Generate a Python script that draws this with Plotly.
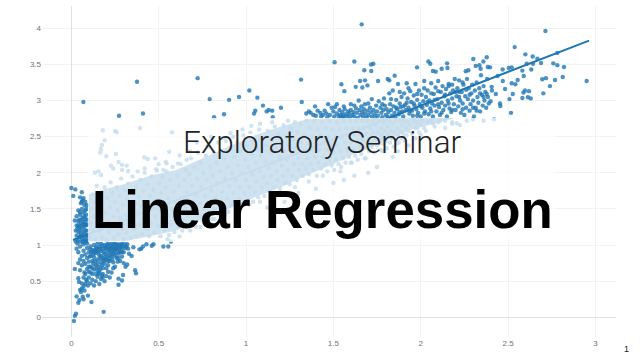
import plotly.graph_objects as go

# --- Data: points (x, y) ---
outliers = [(.069,2.98),(.376,3.26),(.723,3.31),(.273,2.79),(.41,2.82),(.792,3.02),(.817,2.77),(.874,2.81),(.903,3.01),(.96,3.05),
(1.019,3.14),(1.065,3.04),(1.046,2.82),(1.053,2.86),(1.097,2.93),(1.118,2.85),(1.13,2.87),(1.15,2.86),(1.153,2.77),(1.2,2.9),
(1.315,3.29),(1.319,2.98),(1.395,2.92),(1.662,4.055),(2.714,3.963),(1.507,3.53),(1.62,3.54),(1.716,3.5),(1.729,3.51),(1.677,3.42),
(1.717,3.41),(1.546,3.225),(1.563,3.13),(1.628,3.19),(1.653,3.27),(1.681,3.28),(1.666,3.18),(1.695,3.21),(1.756,3.27),(1.811,3.3),
(1.82,3.28),(1.851,3.345),(1.979,3.46),(2.044,3.54),(2.055,3.51),(2.151,3.515),(2.153,3.45),(2.12,3.44),(2.07,3.41),(2.086,3.4),
(2.301,3.575),(2.378,3.6),(2.359,3.54),(2.315,3.48),(2.336,3.49),(2.273,3.42),(2.258,3.405),(2.343,3.44),(2.384,3.465),(2.397,3.46),
(2.538,3.74),(2.599,3.64),(2.641,3.61),(2.668,3.58),(2.782,3.66),(2.759,3.515),(2.782,3.49),(2.82,3.465),(2.607,3.51),(2.643,3.51),
(2.689,3.52),(2.582,3.415),(2.633,3.43),(2.469,3.43),(2.504,3.45),(2.521,3.46),(2.813,3.326),(2.769,3.285),(2.717,3.31),(2.696,3.294),
(2.74,3.2),(2.702,3.1),(2.95,3.27),(2.59,3.34),(2.555,3.285),(2.521,3.24),(2.483,3.16),(2.542,3.225),(2.597,3.14),(2.62,3.13),
(2.588,3.11),(2.527,3.09),(2.508,3.02),(2.582,3.036),(2.614,3.045),(2.63,3.03),(2.517,2.83),(2.454,2.96),(2.456,2.925),(2.406,3.19),
(2.408,3.14),(2.378,3.09),(2.4,2.99),(2.43,3.09),(2.47,3.27),(2.44,3.34)]

upper_a = [(1.345,2.82),(1.36,2.85),(1.37,2.83),(1.385,2.8),(1.4,2.79),(1.41,2.86),(1.425,2.83),(1.43,2.78),(1.44,2.8),(1.45,2.86),
(1.46,2.82),(1.465,2.77),(1.47,2.95),(1.48,2.8),(1.49,2.9),(1.5,2.85),(1.505,2.78),(1.51,2.91),(1.52,2.82),(1.53,2.78),
(1.535,2.87),(1.54,2.8),(1.545,2.77),(1.55,2.84),(1.555,2.79),(1.56,2.77),(1.565,2.88),(1.57,2.81),(1.58,2.78),(1.585,2.85),
(1.59,2.82),(1.595,2.77),(1.6,2.95),(1.6,2.87),(1.61,2.8),(1.615,2.84),(1.62,2.78),(1.63,2.89),(1.635,2.83),(1.64,2.76),
(1.645,3.0),(1.65,2.87),(1.655,2.8),(1.66,2.92),(1.665,2.84),(1.67,2.78),(1.675,2.88),(1.68,2.82),(1.69,2.77),(1.695,2.86),
(1.7,2.8),(1.7,2.96),(1.71,2.9),(1.715,2.84),(1.72,2.78),(1.73,2.87),(1.735,2.81),(1.74,2.76),(1.745,2.93),(1.75,2.85),
(1.755,2.79),(1.76,2.99),(1.77,2.9),(1.775,2.83),(1.78,2.77),(1.785,2.87),(1.79,3.03),(1.795,2.93),(1.8,2.8),(1.805,2.88),
(1.81,2.78),(1.815,2.84),(1.82,3.1),(1.825,2.95),(1.83,2.87),(1.835,2.79),(1.84,3.14),(1.845,2.92),(1.85,2.83),(1.855,2.77)]
upper_b = [(1.86,3.01),(1.865,2.88),(1.87,3.23),(1.875,2.81),(1.88,2.96),(1.885,2.91),(1.89,3.05),(1.895,2.85),(1.9,2.78),(1.905,3.1),
(1.91,2.94),(1.915,2.87),(1.92,3.24),(1.925,3.03),(1.93,2.9),(1.935,2.82),(1.94,3.13),(1.945,2.98),(1.95,2.86),(1.955,2.79),
(1.96,3.07),(1.965,2.93),(1.97,3.23),(1.975,2.88),(1.98,3.01),(1.985,2.83),(1.99,3.14),(1.995,2.95),(2.0,2.78),(2.005,3.08),
(2.01,2.9),(2.015,2.99),(2.02,3.27),(2.025,2.85),(2.03,3.05),(2.035,2.94),(2.04,3.14),(2.045,2.81),(2.05,3.0),(2.055,2.89),
(2.06,3.24),(2.065,2.96),(2.07,2.78),(2.075,3.09),(2.08,2.93),(2.085,3.18),(2.09,2.85),(2.095,3.02),(2.1,3.27),(2.105,2.91),
(2.11,2.8),(2.115,3.12),(2.12,2.97),(2.125,3.2),(2.13,2.87),(2.135,3.06),(2.14,2.93),(2.145,3.16),(2.15,2.78),(2.155,3.0),
(2.16,3.23),(2.165,2.89),(2.17,3.1),(2.175,2.84),(2.18,3.03),(2.185,3.14),(2.19,2.95),(2.195,3.3),(2.2,2.87),(2.205,3.06),
(2.21,3.17),(2.215,2.92),(2.22,3.28),(2.225,3.0),(2.23,2.83),(2.235,3.12),(2.24,2.96),(2.245,3.22),(2.25,2.8),(2.255,3.06),
(2.26,2.9),(2.265,3.3),(2.27,3.02),(2.275,3.17),(2.28,2.86),(2.285,2.95),(2.29,3.1),(2.295,3.22),(2.3,3.0),(2.305,2.78),
(2.31,3.14),(2.315,2.9),(2.32,3.25),(2.325,3.05),(2.33,2.97),(2.335,3.17),(2.34,2.85),(2.345,3.35),(2.35,3.08),(2.355,2.93),
(2.36,3.2),(2.365,3.0),(2.37,3.12),(2.375,2.9),(2.38,3.3),(2.385,3.05),(2.39,2.96)]
upper_c = [(1.86,2.9),(1.88,2.84),(1.9,2.92),(1.92,2.97),(1.94,2.86),(1.96,2.96),(1.98,2.79),(2.0,2.92),(2.02,2.82),(2.04,2.98),
(2.06,2.85),(2.08,3.01),(2.1,2.95),(2.12,2.83),(2.14,3.08),(2.16,2.96),(2.18,2.87),(2.2,3.12),(2.22,3.05),(2.24,2.88),(2.26,3.15),
(2.28,3.08),(2.3,2.9),(2.32,2.86),(2.34,3.1),(2.36,3.05),(1.52,2.95),(1.56,2.92),(1.62,2.93),(1.68,2.95),(1.72,3.02),(1.78,2.95),
(1.83,3.02),(1.88,3.12),(1.93,3.17),(1.98,3.09),(2.02,3.17),(2.06,3.1),(2.1,3.13),(2.16,3.2),(2.18,3.22),(2.22,3.12),(2.24,3.25)]

lower_cloud = [(.015,-.05),(.027,.05),(.02,.02),(.185,.075),(.115,.21),(.04,.2),(.046,.24),(.03,.29),(.065,.285),(.07,.25),
(.095,.3),(.05,.38),(.06,.4),(.07,.43),(.08,.46),(.055,.35),(.075,.37),(.02,.67),(.05,.65),(.04,.54),(.044,.49),(.27,.45),(.29,.51),
(.296,.585),(.27,.535),(.365,.65),(.37,.61),(.345,.85),(.4,.95),(.41,.98),(.43,1.01),(.46,.99),(.47,1.01),(.527,.98),(.555,.98),
(.57,1.05),(.355,.97),(.39,.94),(.09,.5),(.1,.55),(.11,.47),(.12,.52),(.13,.44),(.14,.5),(.15,.56),(.16,.46),(.17,.53),(.18,.6),
(.19,.5),(.2,.57),(.21,.63),(.22,.55),(.23,.62),(.08,.6),(.09,.67),(.1,.63),(.11,.7),(.12,.6),(.13,.66),(.14,.72),(.15,.65),
(.16,.7),(.17,.76),(.18,.68),(.19,.74),(.2,.8),(.21,.72),(.22,.78),(.23,.84),(.24,.76),(.25,.7),(.26,.82),(.27,.88),(.28,.78),
(.29,.84),(.3,.75),(.31,.7),(.32,.73),(.06,.72),(.07,.78),(.08,.74),(.09,.82),(.1,.77),(.11,.85),(.12,.78),(.13,.83),(.14,.89),
(.15,.8),(.16,.86),(.17,.92),(.18,.82),(.19,.88),(.2,.94),(.21,.85),(.22,.91),(.23,.97),(.24,.88),(.25,.94),(.26,1.0),(.27,.92),
(.28,.97),(.29,1.02),(.3,.9),(.31,.96),(.32,1.01),(.33,.88),(.06,.85),(.07,.92),(.08,.87),(.09,.96),(.1,.9),(.11,.98),(.12,.93),
(.13,1.0),(.14,.95),(.15,1.02),(.16,.97),(.17,1.02),(.18,.95),(.19,1.0),(.2,.97),(.21,1.02),(.22,.96),(.23,1.02),(.24,.98),(.25,1.02),
(.26,.95),(.27,1.01),(.28,.9),(.29,.95),(.03,.95),(.04,.9),(.05,.98),(.035,1.02),(.07,1.01),(.09,1.02),(.11,.94),(.13,.9),(.15,.92),
(.17,.85),(.19,.8),(.21,.78),(.23,.9),(.25,.85),(.27,.82),(.29,.9),(.16,.62),(.14,.6),(.12,.68),(.18,.55),(.2,.68),(.24,.68)]
lower_extra = [(.105,.84),(.115,.9),(.125,.87),(.135,.93),(.145,.97),(.155,.9),(.165,.95),(.175,.99),(.185,.9),(.195,.96),(.205,1.0),(.215,.94),
(.225,.99),(.235,.94),(.245,1.01),(.255,.97),(.265,.99),(.275,.95),(.285,1.0),(.295,.98),(.305,1.01),(.315,.98),(.325,.95),(.15,.75),(.165,.81),
(.175,.72),(.185,.78),(.195,.84),(.205,.89),(.215,.81),(.225,.86),(.235,.8),(.245,.92),(.255,.89),(.265,.77),(.1,.7),(.11,.62),(.125,.74),
(.135,.78),(.145,.69),(.155,.6),(.165,.66),(.175,.58),(.07,.55),(.085,.52),(.095,.44),(.06,.47),(.075,.62),(.05,.8),(.04,.75)]

left_strip = [(0,1.79),(.023,1.77),(.011,1.68),(.06,1.73),(.05,1.66),(.065,1.62),(.07,1.65),(.08,1.6),(.055,1.58),(.075,1.55),
(.085,1.5),(.04,1.48),(.06,1.5),(.07,1.45),(.085,1.42),(.03,1.4),(.05,1.42),(.065,1.38),(.08,1.36),(.02,1.34),(.04,1.33),(.055,1.3),
(.07,1.32),(.085,1.28),(.03,1.27),(.045,1.25),(.06,1.23),(.075,1.25),(.09,1.2),(.025,1.2),(.04,1.18),(.055,1.16),(.07,1.18),(.085,1.13),
(.03,1.13),(.045,1.11),(.06,1.09),(.075,1.11),(.09,1.07),(.035,1.07),(.05,1.05),(.065,1.04),(.08,1.06),(.025,1.05),(.045,1.35),(.075,1.4),
(.09,1.35),(.035,1.23),(.05,1.2),(.08,1.2),(.06,1.13),(.085,1.05),(.09,1.55),(.06,1.6),(.08,1.48),(.05,1.45),(.07,1.28),(.09,1.28),(.04,1.27),(.06,1.35),
(.08,1.3),(.09,1.13),(.07,1.06),(.05,1.12),(.08,1.15),(.06,1.27)]

mass_sparse = [(.18,2.59),(.25,2.58),(.26,2.56),(.19,2.45),(.175,2.385),(.17,2.33),(.165,2.28),(.2,2.23),(.255,2.26),(.27,2.15),
(.227,2.1),(.24,2.06),(.29,2.11),(.29,2.04),(.317,2.1),(.325,2.025),(.135,2.0),(.155,2.02),(.17,1.97),(.393,2.62),(.576,2.56),(.418,2.215),
(.437,2.19),(.48,2.2),(.56,2.29),(.54,2.15),(.545,2.13),(.49,2.03),(.527,2.04),(.61,2.13),(.66,2.18),(.72,2.42),(1.03,2.65),(.91,2.55),
(.87,2.48),(2.206,2.685),(2.225,2.66),(2.263,2.72),(2.11,2.72),(2.07,2.68),(2.03,2.58),(1.98,2.62),(1.97,2.48),(2.0,2.52),(1.93,2.38),
(1.87,2.3),(1.84,2.22),(1.75,2.08),(1.7,2.0),(1.62,1.96),(1.56,1.9),(1.5,1.86),(1.4,1.78),(1.3,1.72),(1.22,1.6),(1.12,1.52),
(.8,2.5),(.78,2.38),(.68,2.3),(.62,2.24),(.5,2.12),(.42,2.06),(.38,2.02),(.98,2.6),(1.08,2.68),(1.15,2.7),(1.24,2.72),(.55,1.08),(.62,1.12),
(.68,1.2),(.74,1.25),(.82,1.36),(.88,1.42),(.95,1.5),(1.02,1.56),(1.08,1.6),(1.16,1.68),(1.28,1.8),(1.36,1.88),(1.44,1.96),(1.54,2.02),
(1.6,2.14),(1.68,2.2),(1.78,2.3),(1.86,2.4),(2.14,2.62),(2.18,2.68),(2.3,2.74),(2.36,2.72),(2.42,2.74)]

mass_a = [(.105,1.1),(.11,1.3),(.115,1.5),(.12,1.7),(.125,1.2),(.13,1.4),(.135,1.6),(.14,1.08),(.145,1.82),(.15,1.3),(.155,1.5),(.16,1.2),
(.165,1.7),(.17,1.38),(.175,1.1),(.18,1.58),(.185,1.25),(.19,1.8),(.195,1.45),(.2,1.07),(.205,1.65),(.21,1.33),(.215,1.18),(.22,1.52),(.225,1.87),
(.23,1.25),(.235,1.72),(.24,1.4),(.245,1.1),(.25,1.6),(.255,1.3),(.26,1.8),(.265,1.48),(.27,1.15),(.275,1.68),(.28,1.38),(.285,1.92),(.29,1.23),
(.295,1.56),(.3,1.08),(.305,1.76),(.31,1.42),(.315,1.17),(.32,1.63),(.325,1.85),(.33,1.3),(.335,1.5),(.34,1.1),(.345,1.72),(.35,1.95),(.355,1.38),
(.36,1.22),(.365,1.58),(.37,1.8),(.375,1.12),(.38,1.45),(.385,1.67),(.39,1.28),(.395,1.9),(.4,1.54),(.405,1.15),(.41,1.75),(.415,1.36),(.42,2.0),
(.425,1.6),(.43,1.22),(.435,1.84),(.44,1.46),(.445,1.12),(.45,1.68),(.455,1.3),(.46,1.95),(.465,1.54),(.47,1.77),(.475,1.18),(.48,1.4),(.485,2.05),
(.49,1.62),(.495,1.26),(.5,1.86),(.505,1.48),(.51,1.12),(.515,1.72),(.52,1.95),(.525,1.34),(.53,1.56),(.535,1.2),(.54,1.8),(.545,2.02),(.55,1.42),
(.555,1.64),(.56,1.14),(.565,1.9),(.57,1.28),(.575,1.5),(.58,2.08),(.585,1.74),(.59,1.18),(.595,1.36),(.6,1.58),(.605,1.96),(.61,1.25),(.615,1.82),
(.62,1.44),(.625,2.12),(.63,1.66),(.635,1.2),(.64,1.34),(.645,1.9),(.65,1.52),(.655,2.04),(.66,1.74),(.665,1.27),(.67,1.42),(.675,1.98),(.68,1.6),
(.685,2.2),(.69,1.82),(.695,1.32),(.7,1.5),(.705,2.08),(.71,1.7),(.715,1.25),(.72,1.92),(.725,2.28),(.73,1.4),(.735,1.58),(.74,2.14),(.745,1.8)]
mass_b = [(.75,1.34),(.755,2.0),(.76,1.5),(.765,1.68),(.77,2.24),(.775,1.9),(.78,1.42),(.785,2.36),(.79,1.58),(.795,2.08),(.8,1.76),(.805,1.36),
(.81,1.96),(.815,2.28),(.82,1.5),(.825,1.66),(.83,2.14),(.835,1.86),(.84,2.42),(.845,1.42),(.85,2.02),(.855,1.58),(.86,2.3),(.865,1.74),(.87,1.5),
(.875,2.2),(.88,1.92),(.885,2.44),(.89,1.64),(.895,2.08),(.9,1.46),(.905,1.82),(.91,2.34),(.915,1.56),(.92,2.0),(.925,2.5),(.93,1.72),(.935,2.22),
(.94,1.9),(.945,1.52),(.95,2.42),(.955,2.1),(.96,1.64),(.965,1.8),(.97,2.3),(.975,2.0),(.98,1.56),(.985,2.52),(.99,1.72),(.995,2.18),(1.0,1.9),
(1.005,2.38),(1.01,1.62),(1.015,2.08),(1.02,1.8),(1.025,2.56),(1.03,2.26),(1.035,1.98),(1.04,1.6),(1.045,2.44),(1.05,1.74),(1.055,2.14),(1.06,1.88),
(1.065,2.34),(1.07,1.66),(1.075,2.6),(1.08,2.02),(1.085,2.24),(1.09,1.8),(1.095,2.48),(1.1,1.94),(1.105,1.68),(1.11,2.16),(1.115,2.38),(1.12,1.86),
(1.125,2.58),(1.13,2.06),(1.135,1.74),(1.14,2.28),(1.145,1.96),(1.15,2.46),(1.155,2.14),(1.16,1.8),(1.165,2.64),(1.17,2.34),(1.175,2.02),(1.18,1.9),
(1.185,2.54),(1.19,2.22),(1.195,1.78),(1.2,2.42),(1.205,2.1),(1.21,1.96),(1.215,2.66),(1.22,2.3),(1.225,1.86),(1.23,2.5),(1.235,2.18),(1.24,2.04),
(1.245,2.38),(1.25,1.84),(1.255,2.62),(1.26,2.26),(1.265,1.96),(1.27,2.46),(1.275,2.12),(1.28,2.7),(1.285,2.34),(1.29,1.9),(1.295,2.56),(1.3,2.2),
(1.305,2.04),(1.31,2.42),(1.315,2.68),(1.32,2.12),(1.325,1.96),(1.33,2.3),(1.335,2.52),(1.34,2.06),(1.345,2.72),(1.35,2.2),(1.355,2.4),(1.36,1.98),
(1.365,2.62),(1.37,2.12),(1.375,2.32),(1.38,2.5),(1.385,2.04),(1.39,2.72),(1.395,2.22),(1.4,2.42),(1.405,1.96),(1.41,2.6),(1.415,2.14),(1.42,2.32)]
mass_c = [(1.425,2.52),(1.43,2.06),(1.435,2.7),(1.44,2.22),(1.445,2.42),(1.45,2.12),(1.455,2.62),(1.46,2.32),(1.465,2.02),(1.47,2.5),(1.475,2.18),
(1.48,2.72),(1.485,2.4),(1.49,2.1),(1.495,2.6),(1.5,2.28),(1.505,2.04),(1.51,2.5),(1.515,2.18),(1.52,2.7),(1.525,2.38),(1.53,2.12),(1.535,2.6),(1.54,2.3),
(1.545,2.08),(1.55,2.5),(1.555,2.2),(1.56,2.72),(1.565,2.42),(1.57,2.14),(1.575,2.62),(1.58,2.32),(1.585,2.52),(1.59,2.22),(1.595,2.72),(1.6,2.42),
(1.605,2.14),(1.61,2.62),(1.615,2.32),(1.62,2.54),(1.625,2.24),(1.63,2.72),(1.635,2.44),(1.64,2.18),(1.645,2.62),(1.65,2.36),(1.655,2.54),(1.66,2.26),
(1.665,2.72),(1.67,2.46),(1.675,2.62),(1.68,2.34),(1.685,2.2),(1.69,2.54),(1.695,2.72),(1.7,2.42),(1.705,2.3),(1.71,2.62),(1.715,2.5),(1.72,2.36),
(1.725,2.72),(1.73,2.56),(1.735,2.28),(1.74,2.46),(1.745,2.66),(1.75,2.38),(1.755,2.56),(1.76,2.72),(1.765,2.46),(1.77,2.32),(1.775,2.62),(1.78,2.52),
(1.785,2.4),(1.79,2.7),(1.795,2.58),(1.8,2.44),(1.805,2.34),(1.81,2.64),(1.815,2.52),(1.82,2.72),(1.825,2.42),(1.83,2.58),(1.835,2.48),(1.84,2.68),
(1.845,2.36),(1.85,2.56),(1.855,2.72),(1.86,2.46),(1.865,2.62),(1.87,2.52),(1.875,2.42),(1.88,2.72),(1.885,2.58),(1.89,2.48),(1.895,2.66),(1.9,2.54),
(1.905,2.72),(1.91,2.44),(1.915,2.62),(1.92,2.52),(1.925,2.7),(1.93,2.58),(1.94,2.66),(1.95,2.54),(1.96,2.72),(1.97,2.62),(1.98,2.7),(1.99,2.56),
(2.0,2.66),(2.01,2.72),(2.02,2.62),(2.04,2.7),(2.06,2.72),(2.08,2.64),(2.1,2.7),(2.14,2.72),(2.18,2.7)]

# outline of the region where the points merge into a solid mass
core_x = [.1,.32,.45,.6,.75,.9,1.05,1.2,1.35,1.5,1.65,1.8,1.95,2.1,2.2,1.9,1.35,1.2,1.05,.9,.75,.6,.45,.3,.2,.1]
core_y = [1.05,1.06,1.12,1.2,1.36,1.5,1.66,1.8,1.97,2.12,2.3,2.44,2.6,2.7,2.76,2.76,2.74,2.64,2.52,2.36,2.2,2.04,1.96,1.84,1.78,1.7]

fit_x = [.01, 2.964]
fit_y = [1.07, 3.83]

x_ticks = [0, .5, 1, 1.5, 2, 2.5, 3]
x_labels = ["0", "0.5", "1", "1.5", "2", "2.5", "3"]
y_ticks = [0, .5, 1, 1.5, 2, 2.5, 3, 3.5, 4]
y_labels = ["0", "0.5", "1", "1.5", "2", "2.5", "3", "3.5", "4"]

title_text = "Exploratory Seminar"
headline_text = "Linear Regression"
page_number = "1"

BLUE = "rgb(31,119,180)"
points = (outliers + upper_a + upper_b + upper_c + lower_cloud + lower_extra + left_strip
          + mass_sparse + mass_a + mass_b + mass_c)

fig = go.Figure()
fig.add_trace(go.Scatter(x=core_x, y=core_y, mode="lines", fill="toself", line=dict(width=0),
                         fillcolor="rgba(31,119,180,0.82)", showlegend=False))
fig.add_trace(go.Scatter(x=fit_x, y=fit_y, mode="lines", line=dict(color=BLUE, width=2), showlegend=False))
fig.add_trace(go.Scatter(x=[p[0] for p in points], y=[p[1] for p in points], mode="markers",
                         marker=dict(color=BLUE, size=4.4, opacity=.8, line=dict(width=0)), showlegend=False))

# translucent white panel behind the slide title
fig.add_shape(type="rect", xref="x", yref="y", x0=.0956, x1=2.77, y0=1.042, y1=2.76,
              fillcolor="white", opacity=.74, line_width=0, layer="above")

fig.add_annotation(x=1.438, y=2.42, xref="x", yref="y", text=title_text, showarrow=False, xanchor="center", yanchor="middle",
                   font=dict(family="Roboto", size=31.5, color="#222", weight=300))
fig.add_annotation(x=1.438, y=1.49, xref="x", yref="y", text=headline_text, showarrow=False, xanchor="center", yanchor="middle",
                   font=dict(family="Liberation Sans", size=52.8, color="#000", weight=700))
fig.add_annotation(x=(626-42)/574, y=(337-349)/331, xref="paper", yref="paper", text=page_number, showarrow=False,
                   xanchor="center", yanchor="middle", font=dict(family="Liberation Sans", size=9, color="#222"))

axis = dict(showgrid=True, gridcolor="#f3f3f3", gridwidth=1, zeroline=True, zerolinecolor="#e2e2e2", zerolinewidth=1,
            showline=False, ticks="", tickfont=dict(family="Liberation Sans", size=8, color="#707070"))
fig.update_layout(width=640, height=360, margin=dict(l=42, r=24, t=6, b=23), paper_bgcolor="white", plot_bgcolor="white",
                  xaxis=dict(range=[-.168, 3.118], tickvals=x_ticks, ticktext=x_labels, **axis),
                  yaxis=dict(range=[-.273, 4.309], tickvals=y_ticks, ticktext=y_labels, **axis),
                  showlegend=False)
fig.write_html("out.html", config=dict(displayModeBar=False),
               post_script="document.body.style.margin='0';document.body.style.overflow='hidden';")
